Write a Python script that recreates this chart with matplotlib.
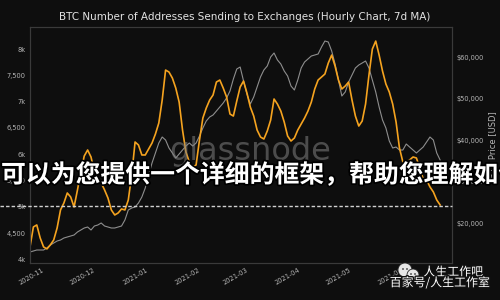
import numpy as np
import pandas as pd
import matplotlib
matplotlib.use("Agg")
import matplotlib.pyplot as plt
import matplotlib.dates as mdates
import matplotlib.ticker as mticker
import matplotlib.patheffects as pe
from matplotlib.lines import Line2D
from matplotlib.patches import Ellipse

# datos (una muestra cada 2 dias)
title = "BTC Number of Addresses Sending to Exchanges (Hourly Chart, 7d MA)"
start_date = "2020-10-23"

addresses = [4236, 4616, 4654, 4407, 4236, 4198, 4274, 4369, 4597, 4939,
             5072, 5262, 5186, 4996, 5319, 5662, 5966, 6080, 5947, 5662,
             5510, 5453, 5320, 5167, 4939, 4844, 4882, 4958, 4939, 5129,
             5605, 6232, 6175, 5985, 5985, 6099, 6213, 6384, 6593, 7030,
             7601, 7563, 7449, 7259, 6992, 6460, 6042, 5852, 5757, 5795,
             6270, 6688, 6878, 7030, 7126, 7373, 7411, 7259, 7088, 6764,
             6726, 7011, 7278, 7392, 7164, 6897, 6726, 6460, 6327, 6289,
             6441, 6650, 7050, 6954, 6821, 6612, 6346, 6251, 6308, 6460,
             6574, 6688, 6821, 6992, 7240, 7411, 7468, 7525, 7734, 7886,
             7677, 7411, 7240, 7297, 7373, 7030, 6726, 6536, 6631, 6954,
             7506, 8000, 8152, 7886, 7582, 7335, 7183, 6954, 6612, 6118,
             5852, 5833, 5890, 5947, 5928, 5738, 5529, 5510, 5377, 5282,
             5129, 5034]

price = [13012, 13253, 13494, 13494, 13494, 13976, 14699, 15181, 15663, 15904,
         16386, 16627, 16868, 17108, 17831, 18313, 18795, 19036, 18313, 19277,
         19518, 20000, 19277, 19036, 18795, 18795, 19036, 19277, 20723, 23133,
         23614, 23855, 24819, 26265, 28434, 31566, 34458, 36868, 39277, 40723,
         40000, 38072, 36868, 35663, 36627, 37590, 38554, 39277, 38554, 39277,
         40964, 42892, 44578, 45542, 46024, 46988, 47952, 48916, 50120, 51807,
         54699, 57108, 57590, 54217, 51084, 48675, 50361, 52771, 55181, 56867,
         57831, 60000, 60964, 59277, 58313, 56627, 55422, 53012, 52048, 54458,
         57349, 58795, 59518, 60241, 60482, 60723, 62410, 63855, 63614, 61446,
         58313, 54458, 50602, 51566, 53976, 55663, 57349, 58072, 58554, 59036,
         57349, 54458, 51566, 47952, 44819, 42892, 39759, 38072, 38313, 37590,
         37590, 39036, 38313, 37590, 36868, 37590, 38313, 39518, 40723, 40000,
         36868, 35181]

left_ticks = [4000, 4500, 5000, 5500, 6000, 6500, 7000, 7500, 8000]
right_ticks = [20000, 30000, 40000, 50000, 60000]

overlay_text = "可以为您提供一个详细的框架，帮助您理解如何"
wm_line1 = "人生工作吧"
wm_line2 = "百家号/人生工作室"

dates = pd.date_range(start_date, periods=len(addresses), freq="2D")

bg = "#0e0e0e"
tick_col = "#b5b5b5"

fig = plt.figure(figsize=(5, 3), dpi=100, facecolor=bg)
ax2 = fig.add_axes([0.06, 0.1233, 0.844, 0.7867])
ax = ax2.twinx()
# el eje izquierdo (direcciones) por encima del precio
ax2.yaxis.tick_right()
ax.yaxis.tick_left()
ax.yaxis.set_label_position("left")
ax2.yaxis.set_label_position("right")
ax.set_zorder(ax2.get_zorder() + 1)
ax.patch.set_visible(False)
ax2.set_facecolor(bg)

ax2.plot(dates, price, color="#8e8e8e", lw=0.8)
ax.plot(dates, addresses, color="#f5a31f", lw=1.2)

ax.set_xlim(pd.Timestamp("2020-10-23"), pd.Timestamp("2021-06-29"))
ax.set_ylim(3930, 8420)
ax2.set_ylim(10360, 67230)

ax.set_yticks(left_ticks)
ax.yaxis.set_major_formatter(mticker.FuncFormatter(
    lambda v, p: f"{int(v)//1000}k" if v % 1000 == 0 else f"{int(v):,}"))
ax2.set_yticks(right_ticks)
ax2.yaxis.set_major_formatter(mticker.FuncFormatter(lambda v, p: f"${int(v):,}"))

ax2.xaxis.set_major_locator(mdates.MonthLocator())
ax2.xaxis.set_major_formatter(mdates.DateFormatter("%Y-%m"))
for lab in ax2.get_xticklabels():
    lab.set_rotation(30)
    lab.set_ha("right")

for a in (ax, ax2):
    a.tick_params(length=0, labelsize=4.8, colors=tick_col, pad=3)
    for s in a.spines.values():
        s.set_color("#3a3a3a")
        s.set_linewidth(0.8)

ax2.set_ylabel("BTC Price [USD]", color=tick_col, fontsize=6, labelpad=3)

fig.text(0.49, 0.943, title, ha="center", va="center", fontsize=7.5, color="#e2e2e2")

# marca de agua
fig.text(0.501, 0.467, "glassnode", ha="center", va="baseline", fontsize=23,
         color="#808080", alpha=0.55, zorder=5)

# linea discontinua superpuesta
fig.add_artist(Line2D([0, 0.904], [0.313, 0.313], transform=fig.transFigure,
                      color="#d0d0d0", lw=1.0, ls=(0, (2.5, 1.5)), zorder=6))

# texto chino superpuesto
fig.text(0.002, 0.417, overlay_text, ha="left", va="center", fontsize=17.9,
         family=["Noto Sans CJK SC", "DejaVu Sans"], weight="bold", color="white",
         zorder=10, path_effects=[pe.withStroke(linewidth=2.5, foreground="black")])

# logo + texto de la esquina
for cx, cy, r in [(405, 270, 7), (413, 275, 6)]:
    fig.add_artist(Ellipse((cx / 500, 1 - cy / 300), 2 * r / 500, 2 * r / 300,
                           transform=fig.transFigure, facecolor="#e6e6e6",
                           edgecolor="#222222", lw=0.6, zorder=11))
    for dx in (-2, 2):
        fig.add_artist(Ellipse(((cx + dx) / 500, 1 - (cy - 1) / 300), 1.6 / 500, 1.6 / 300,
                               transform=fig.transFigure, facecolor="#111111",
                               lw=0, zorder=12))

fig.text(0.906, 0.093, wm_line1, ha="center", va="center", fontsize=8.6,
         family=["Noto Sans CJK SC", "DejaVu Sans"], color="white", zorder=12,
         path_effects=[pe.withStroke(linewidth=2, foreground="#111111")])
fig.text(0.879, 0.057, wm_line2, ha="center", va="center", fontsize=8.6,
         family=["Noto Sans CJK SC", "DejaVu Sans"], color="white", zorder=12,
         path_effects=[pe.withStroke(linewidth=2, foreground="#111111")])

fig.savefig("out.png", dpi=100, facecolor=bg)
